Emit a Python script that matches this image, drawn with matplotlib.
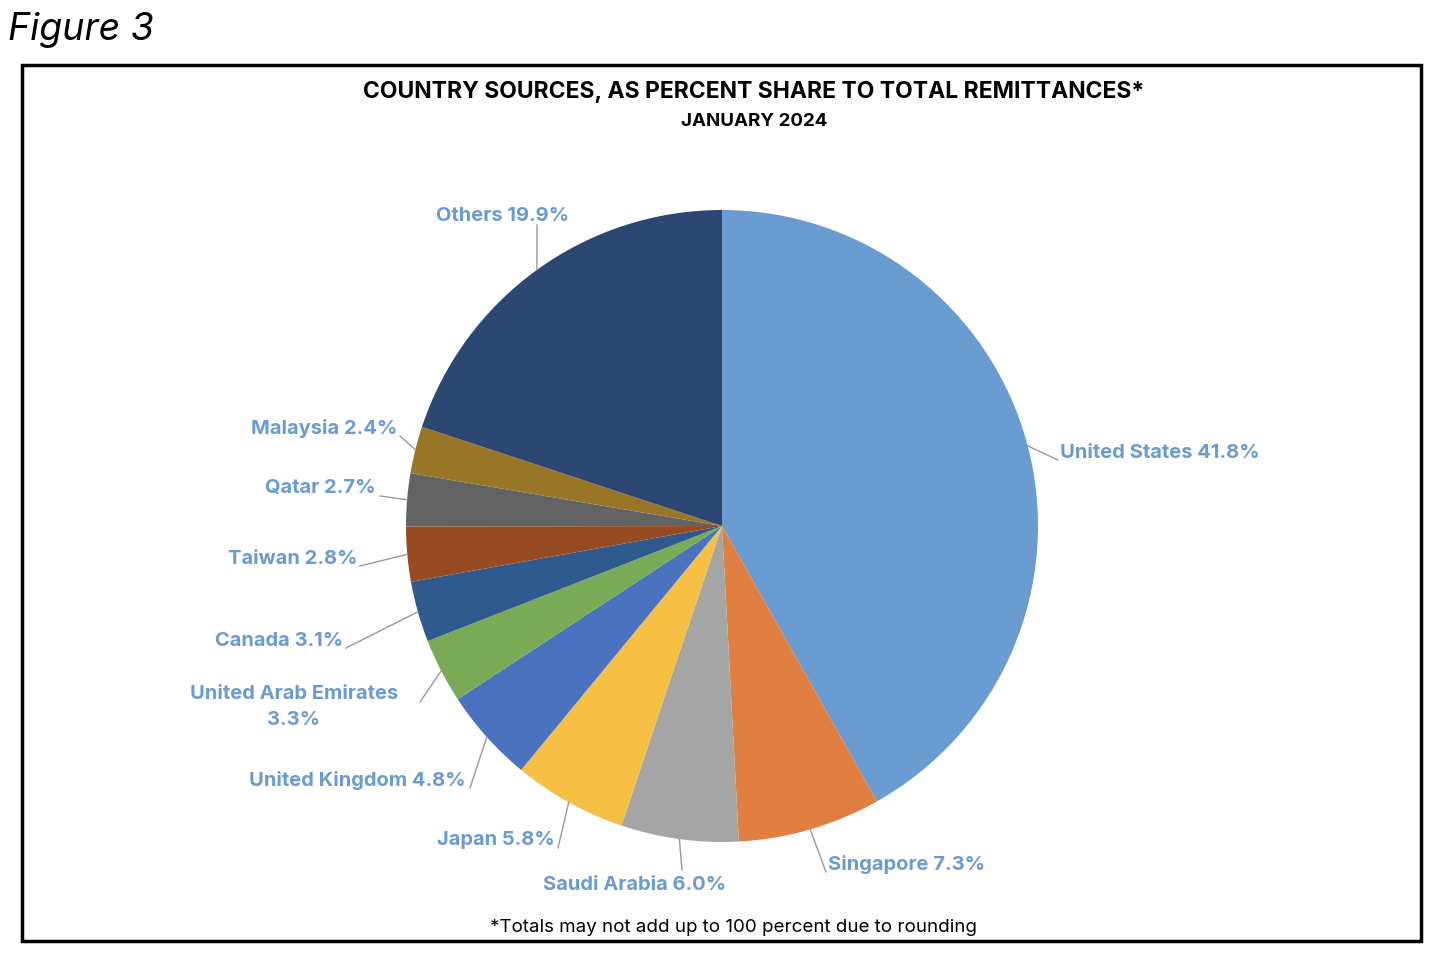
import matplotlib
matplotlib.use("Agg")
import matplotlib.pyplot as plt
import numpy as np
from matplotlib.patches import Rectangle

countries = ["United States", "Singapore", "Saudi Arabia", "Japan", "United Kingdom",
             "United Arab Emirates", "Canada", "Taiwan", "Qatar", "Malaysia", "Others"]
shares = [41.8, 7.3, 6.0, 5.8, 4.8, 3.3, 3.1, 2.8, 2.7, 2.4, 19.9]
colors = ["#6A9BD1", "#E07F3F", "#A5A5A5", "#F5C043", "#4A72BF", "#7AAA55",
          "#2F5A8E", "#964B22", "#636363", "#987625", "#2C4772"]
label_texts = ["United States 41.8%", "Singapore 7.3%", "Saudi Arabia 6.0%", "Japan 5.8%",
               "United Kingdom 4.8%", "United Arab Emirates\n3.3%", "Canada 3.1%",
               "Taiwan 2.8%", "Qatar 2.7%", "Malaysia 2.4%", "Others 19.9%"]
lab_pos = [(1060, 453, "left", (1058, 460)),
           (828, 865, "left", (826, 872)),
           (635, 885, "center", (682, 870)),
           (555, 840, "right", (558, 848)),
           (466, 781, "right", (470, 788)),
           (294, 707, "center", (420, 702)),
           (343, 641, "right", (346, 648)),
           (357, 559, "right", (360, 566)),
           (376, 488, "right", (380, 496)),
           (397, 429, "right", (400, 436)),
           (569, 216, "right", (537, 225))]

W, H = 1440, 956
fig = plt.figure(figsize=(W/100, H/100), dpi=100)
fig.patch.set_facecolor("white")
fam = ["Inter", "DejaVu Sans"]

fig.text(8/W, 1-30/H, "Figure 3", fontsize=27, style="italic", family=fam, va="center")
fig.patches.append(Rectangle((22/W, 1-941/H), 1399/W, 876/H, transform=fig.transFigure,
                             fill=False, lw=2.5, ec="black"))
fig.text(754/W, 1-92/H, "COUNTRY SOURCES, AS PERCENT SHARE TO TOTAL REMITTANCES*",
         fontsize=16.5, weight="bold", family=fam, ha="center", va="center")
fig.text(754/W, 1-121/H, "JANUARY 2024", fontsize=13.5, weight="bold", family=fam,
         ha="center", va="center")
fig.text(733/W, 1-928/H, "*Totals may not add up to 100 percent due to rounding",
         fontsize=13.5, family=fam, ha="center", va="center")

cx, cy, r = 722, 526, 316
ax = fig.add_axes([(cx-r)/W, (H-cy-r)/H, 2*r/W, 2*r/H])
wedges, _ = ax.pie(shares, colors=colors, startangle=90, counterclock=False,
                   wedgeprops=dict(lw=0))
ax.set_xlim(-1, 1); ax.set_ylim(-1, 1)
ax.set_aspect("equal"); ax.axis("off")

for w, txt, (lx, ly, ha, (ex, ey)) in zip(wedges, label_texts, lab_pos):
    ang = np.deg2rad((w.theta1 + w.theta2) / 2)
    px, py = cx + r*np.cos(ang), cy - r*np.sin(ang)
    fig.add_artist(plt.Line2D([px/W, ex/W], [1-py/H, 1-ey/H], transform=fig.transFigure,
                              color="#999999", lw=1))
    fig.text(lx/W, 1-ly/H, txt, fontsize=14.5, weight="bold", color="#6A9BD1",
             family=fam, ha=ha, va="center", linespacing=1.6)

fig.savefig("out.png", dpi=100)
